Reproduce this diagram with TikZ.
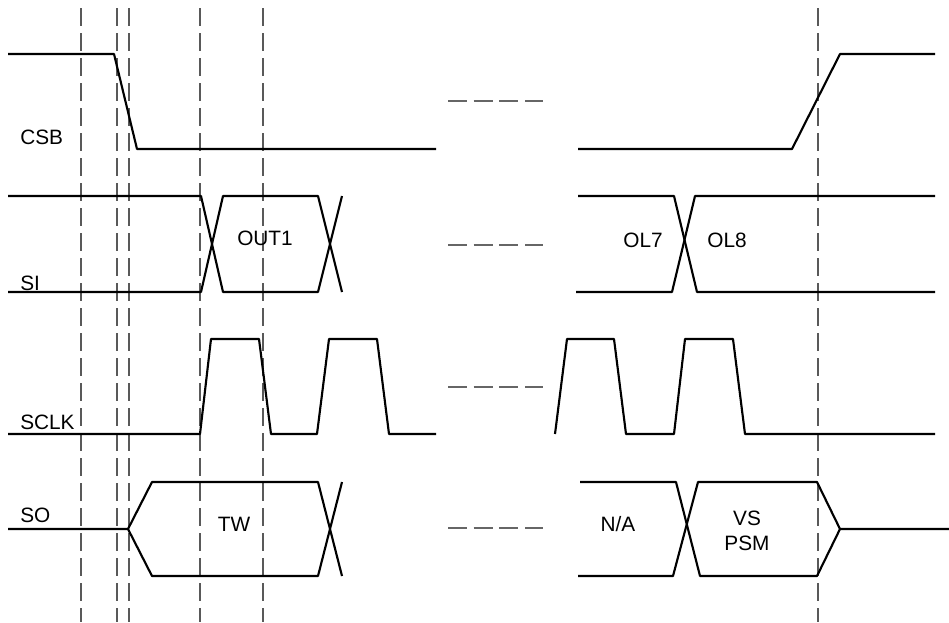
\documentclass[tikz,border=0pt]{standalone}
\usepackage{fontspec}
\setmainfont{Liberation Sans}
\begin{document}
\begin{tikzpicture}[x=0.75pt,y=-0.75pt,
  sig/.style={line width=1.6pt, black, line join=round},
  guide/.style={line width=1pt, draw=black!65, dash pattern=on 13.5pt off 5.25pt},
  gapmark/.style={line width=1.1pt, draw=black!60, dash pattern=on 14.25pt off 5pt},
  lbl/.style={inner sep=0pt, font=\fontsize{15.6pt}{18pt}\selectfont}]
\useasboundingbox (0,0) rectangle (949,622);
% vertical guide lines
\foreach \gx in {81,117,129,200,263,818}
  \draw[guide] (\gx,8) -- (\gx,622);
% gap marks
\draw[gapmark, line width=1.5pt] (448,101) -- (543,101);
\foreach \gy in {245,387,528}
  \draw[gapmark] (448,\gy) -- (543,\gy);
% CSB
\draw[sig] (8,54) -- (114,54) -- (137,149) -- (436,149);
\draw[sig] (578,149) -- (792,149) -- (840,54) -- (935,54);
% SI
\draw[sig] (8,196) -- (201,196) -- (223,292) -- (318,292) -- (342,196);
\draw[sig] (8,292) -- (201,292) -- (223,196) -- (318,196) -- (342,292);
\draw[sig] (578,196) -- (674,196) -- (697,292) -- (935,292);
\draw[sig] (576,292) -- (672,292) -- (695,196) -- (935,196);
% SCLK
\draw[sig] (8,434) -- (200,434) -- (211,339) -- (259,339) -- (271,434) -- (317,434)
  -- (329,339) -- (377,339) -- (389,434) -- (436,434);
\draw[sig] (555,434) -- (567,339) -- (614,339) -- (626,434) -- (674,434)
  -- (685,339) -- (733,339) -- (745,434) -- (935,434);
% SO
\draw[sig] (8,529) -- (128,529) -- (152,482) -- (318,482) -- (342,576);
\draw[sig] (128,529) -- (152,576) -- (318,576) -- (342,482);
\draw[sig] (580,482) -- (676,482) -- (700,576) -- (817,576) -- (840,529) -- (949,529);
\draw[sig] (578,576) -- (673,576) -- (698,482) -- (817,482) -- (840,529);
% labels
\node[lbl, anchor=west] (csb) at (20,137) {CSB};
\node[lbl, anchor=west] (si) at (20,283) {SI};
\node[lbl, anchor=west] (sclk) at (20,422) {SCLK};
\node[lbl, anchor=west] (so) at (20,515) {SO};
\node[lbl] (out1) at (265,238) {OUT1};
\node[lbl] (ol7) at (643,240) {OL7};
\node[lbl] (ol8) at (727,240) {OL8};
\node[lbl] (tw) at (234,524) {TW};
\node[lbl] (na) at (618,524) {N/A};
\node[lbl] (vs) at (747,518) {VS};
\node[lbl] (psm) at (747,543) {PSM};
\end{tikzpicture}
\end{document}
